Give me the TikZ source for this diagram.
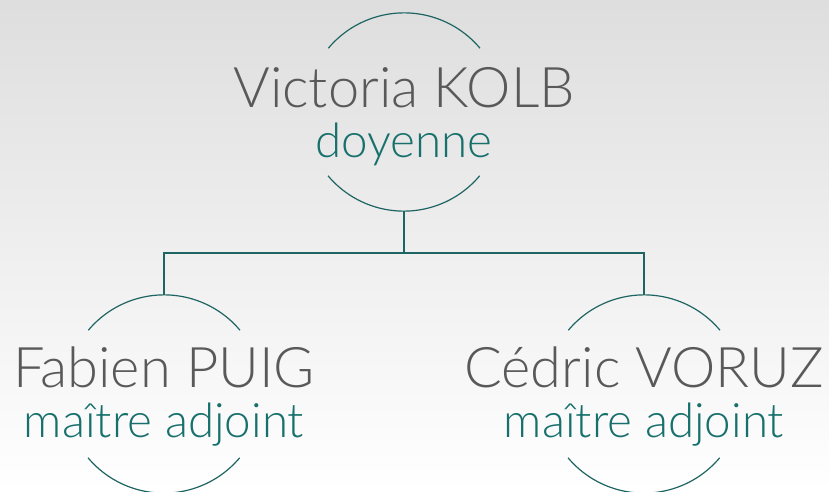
\documentclass[tikz,border=0pt]{standalone}
\usepackage{fontspec}
\setmainfont{Lato Light}
\usepackage{xcolor}
\usepackage{tikz}

\definecolor{teal1}{HTML}{1D6463}
\definecolor{teal2}{HTML}{17706C}
\definecolor{txtgray}{HTML}{595959}

\begin{document}
\begin{tikzpicture}[x=1pt, y=-1pt,
    ring/.style={circle, minimum size=198pt, inner sep=0pt},
    ringline/.style={draw=teal1, line width=1.2pt},
    conn/.style={draw=teal1, line width=1.2pt},
    person/.style={text=txtgray, font=\fontsize{56}{62}\selectfont, anchor=base, inner sep=0pt},
    role/.style={text=teal2, font=\fontsize{47.5}{52}\selectfont, anchor=base, inner sep=0pt}]
            \shade[top color=black!13, bottom color=white] (0,0) rectangle (829,492);
            \useasboundingbox (0,0) rectangle (829,492);

            \node[ring] (kolb) at (404,112) {};
            \node[person] (kolbname) at ([yshift=5pt]kolb.center) {Victoria KOLB};
            \node[role] (kolbrole) at ([yshift=-45pt]kolb.center) {doyenne};

            \node[ring] (puig) at (164,394) {};
            \node[person] (puigname) at ([yshift=7pt]puig.center) {Fabien PUIG};
            \node[role] (puigrole) at ([yshift=-43pt]puig.center) {maître adjoint};

            \node[ring] (voruz) at (644,394) {};
            \node[person] (voruzname) at ([yshift=7pt]voruz.center) {Cédric VORUZ};
            \node[role] (voruzrole) at ([yshift=-43pt]voruz.center) {maître adjoint};

            % arcs
            \draw[ringline] (kolb.40) arc[start angle=40, end angle=140, radius=99pt];
            \draw[ringline] (kolb.220) arc[start angle=220, end angle=320, radius=99pt];
            \draw[ringline] (puig.40) arc[start angle=40, end angle=140, radius=99pt];
            \draw[ringline] (puig.220) arc[start angle=220, end angle=320, radius=99pt];
            \draw[ringline] (voruz.40) arc[start angle=40, end angle=140, radius=99pt];
            \draw[ringline] (voruz.220) arc[start angle=220, end angle=320, radius=99pt];

            \coordinate (bus) at (404,253);
            \draw[conn] (kolb.south) -- (bus); % kolb-bus
            \draw[conn] (puig.north) |- (bus) -| (voruz.north); % puig-voruz
        \end{tikzpicture}
\end{document}
